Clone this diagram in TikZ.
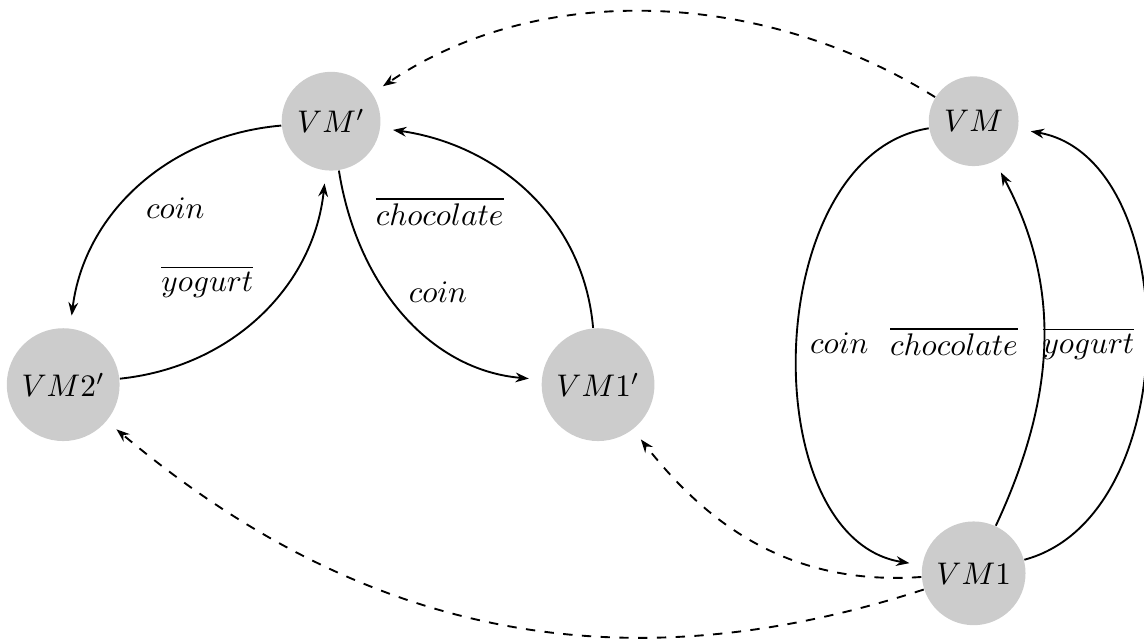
\documentclass[tikz,border=0pt]{standalone}
\usepackage{tikz}
\usetikzlibrary{arrows.meta,positioning}
\definecolor{nodegray}{RGB}{204,204,204}
\tikzset{
  machine/.style={circle,fill=nodegray,inner sep=3.3pt},
  move/.style={-{Stealth[length=1.5mm,width=1.1mm,inset=0.5mm]},semithick,shorten >=4pt},
  hop/.style={move,dashed},
  act/.style={inner sep=1pt}
}
\begin{document}
\begin{tikzpicture}[on grid]
  \useasboundingbox (0,0) rectangle (12.854,7.202);
  % machines
  \node[machine] (vmp) at (3.72,5.84) {$VM'$};
  \node[machine,below left=2.96cm and 3.01cm of vmp] (vmtwop) {$VM2'$};
  \node[machine,below right=2.96cm and 3.0cm of vmp] (vmonep) {$VM1'$};
  \node[machine,right=7.22cm of vmp] (vm) {$VM$};
  \node[machine,below=5.08cm of vm] (vmone) {$VM1$};
  % transitions
  \draw[move] (vmp) to[out=185,in=83] (vmtwop);
  \draw[move] (vmtwop) to[out=6,in=-96] (vmp);
  \draw[move] (vmp) to[out=-81,in=175] (vmonep);
  \draw[move] (vmonep) to[out=95,in=-8] (vmp);
  \draw[move] (vm) to[out=189,in=171] (vmone);
  \draw[move] (vmone) to[out=65,in=-62] (vm);
  \draw[move] (vmone) to[out=15,in=-10] (vm);
  % correspondences
  \draw[hop] (vm) to[out=148,in=34,looseness=0.92] (vmp);
  \draw[hop] (vmone) to[out=184,in=-52] (vmonep);
  \draw[hop] (vmone) to[out=198,in=-40] (vmtwop);
  % labels
  \node[act] (lcoina) at (1.97,4.86) {$coin$};
  \node[act] (lyoga) at (2.33,4.04) {$\overline{yogurt}$};
  \node[act] (lchoca) at (4.94,4.83) {$\overline{chocolate}$};
  \node[act] (lcoinb) at (4.92,3.92) {$coin$};
  \node[act] (lcoinc) at (9.43,3.35) {$coin$};
  \node[act] (lchocb) at (10.72,3.37) {$\overline{chocolate}$};
  \node[act] (lyogb) at (12.23,3.34) {$\overline{yogurt}$};
\end{tikzpicture}
\end{document}
